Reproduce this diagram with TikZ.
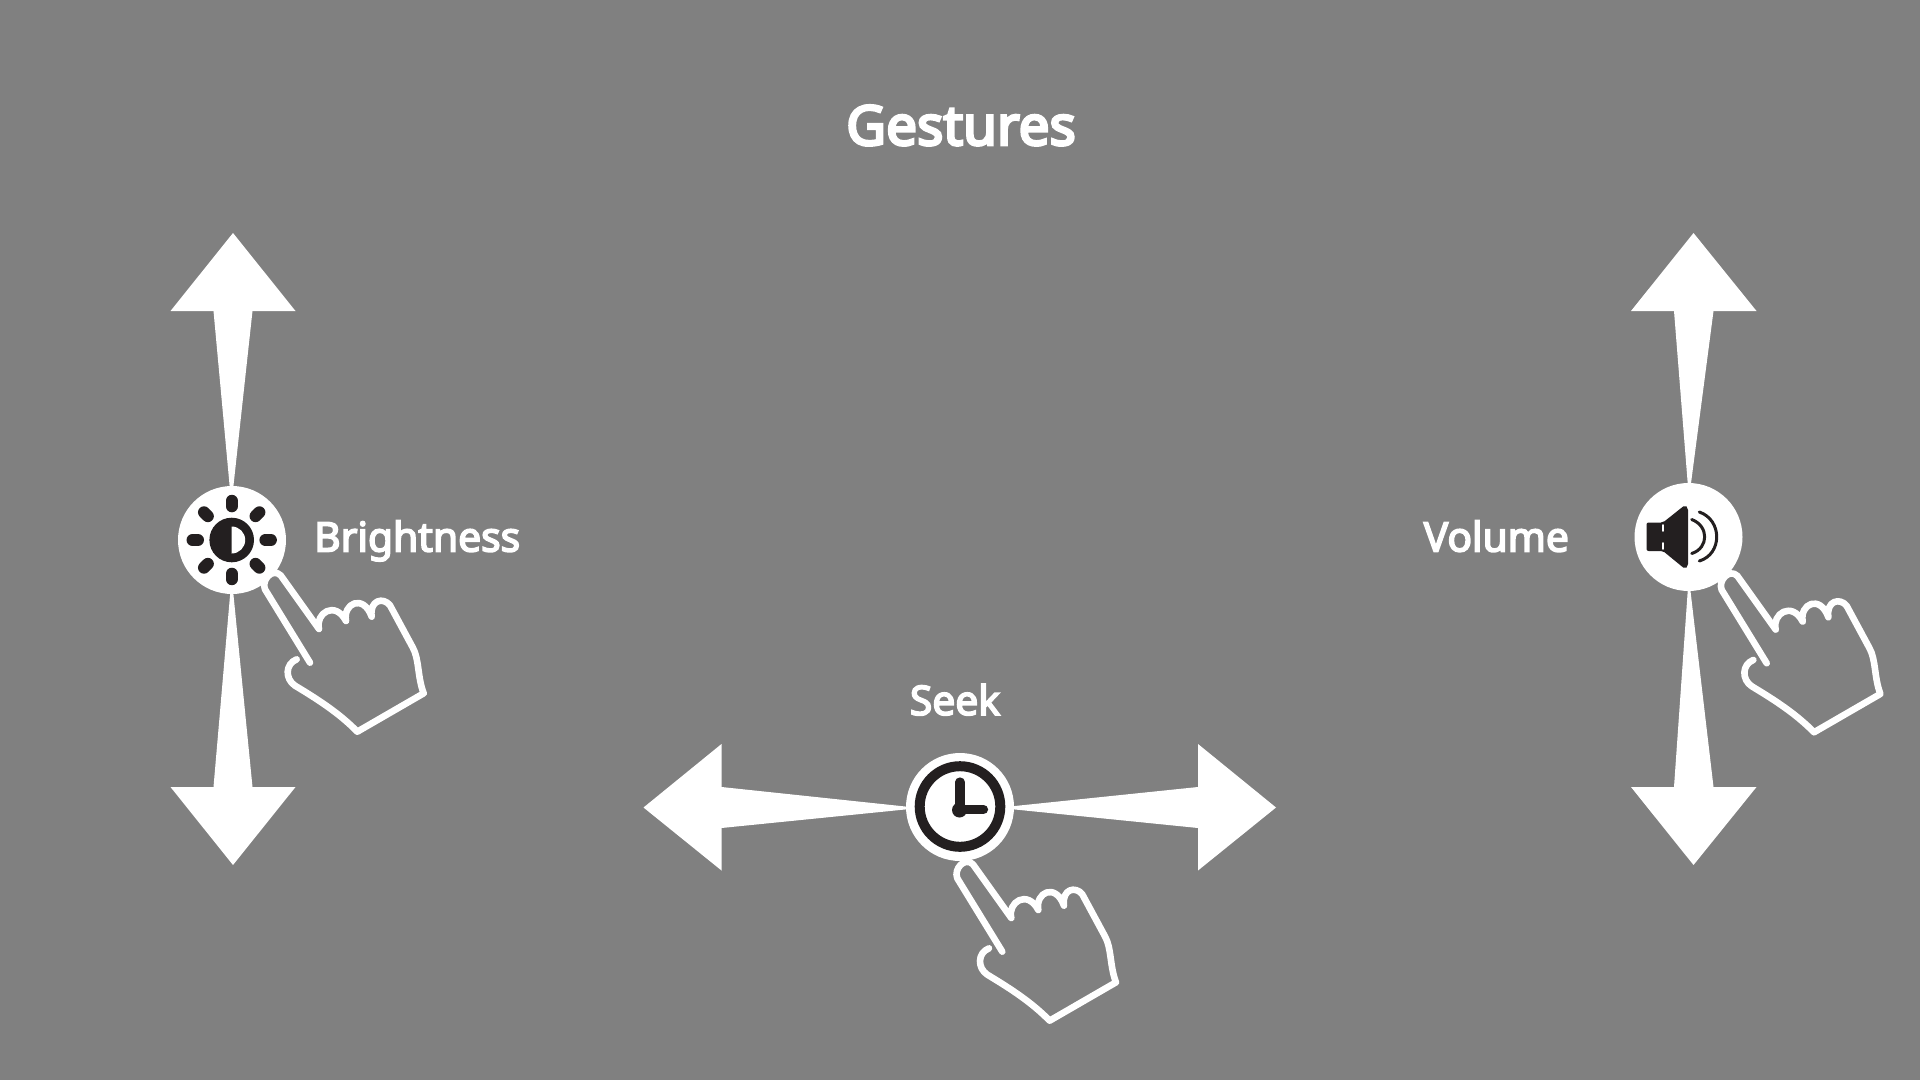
\documentclass[tikz,border=0pt]{standalone}
\usepackage{fontspec}
\setmainfont{Noto Sans}
\newfontfamily\labfont[RawFeature={embolden=4}]{Noto Sans}
\newfontfamily\titlefont[RawFeature={embolden=5}]{Noto Sans}
\definecolor{bg}{HTML}{808080}
\definecolor{ink}{HTML}{231F20}
\tikzset{
  x=0.05cm,y=-0.05cm,
  arrowshape/.style={fill=white,draw=none},
  disc/.style={circle,fill=white,draw=none,minimum size=5.4cm,inner sep=0pt,outer sep=0pt},
  title/.style={text=white,font=\titlefont\fontsize{78}{90}\selectfont,inner sep=0pt,anchor=base},
  lab/.style={text=white,font=\labfont\fontsize{58}{70}\selectfont,inner sep=0pt,anchor=base},
  inkfill/.style={fill=ink,draw=none},
  pics/hand/.style={code={
    \draw[white,line width=0.33cm,line cap=round,line join=round,x=0.05cm/3,y=-0.05cm/3]
      (480,608) -- (345,388) .. controls (333,360) and (368,322) .. (392,346)
      -- (507,507) .. controls (495,460) and (555,420) .. (588,483)
      .. controls (578,430) and (640,400) .. (665,470)
      .. controls (658,420) and (700,410) .. (720,436)
      -- (788,562) .. controls (808,597) and (802,650) .. (821,700)
      -- (622,815) .. controls (570,762) and (510,722) .. (435,677)
      .. controls (405,657) and (405,612) .. (440,598);
  }},
}
\begin{document}
\begin{tikzpicture}
\useasboundingbox[fill=bg] (0,0) rectangle (1920,1080);
% arrows, left column
\fill[arrowshape] (233,233) -- (295.5,311) -- (252.5,311) -- (233,490) -- (230,490) -- (213.5,311) -- (170.5,311) -- cycle;
\fill[arrowshape] (233,865) -- (295.5,787) -- (252.5,787) -- (233,590) -- (230.5,590) -- (213.5,787) -- (170.5,787) -- cycle;
% arrows, right column
\fill[arrowshape] (1693.5,233) -- (1756.5,311) -- (1713.5,311) -- (1690.5,487) -- (1688,487) -- (1674,311) -- (1631,311) -- cycle;
\fill[arrowshape] (1693.5,865) -- (1756.5,787) -- (1713.5,787) -- (1690,587) -- (1688,587) -- (1674,787) -- (1631,787) -- cycle;
% arrows, centre
\fill[arrowshape] (643.5,807.5) -- (721.5,744) -- (721.5,787) -- (910,807) -- (910,809) -- (721.5,828) -- (721.5,870.5) -- cycle;
\fill[arrowshape] (1276,807.5) -- (1198,744) -- (1198,787) -- (1010,806.5) -- (1010,809) -- (1198,828) -- (1198,870.5) -- cycle;
% discs
\node[disc] (bright) at (232,540) {};
\node[disc] (vol) at (1688.5,537) {};
\node[disc] (seek) at (960,807) {};
% brightness icon
\fill[inkfill] (231.7,540) circle[radius=22.3];
\fill[white] (231.7,526.5) arc[start angle=90,end angle=-90,x radius=13.5,y radius=-13.5] -- cycle;
\foreach \a in {0,45,...,315}
  \draw[ink,line width=0.6cm,line cap=round] (231.7,540) ++(\a:33.7) -- ++(\a:5.5);
% volume icon
\fill[inkfill,rounded corners=0.1cm] (1646.5,522.5) -- (1663,522.5) -- (1685,505) -- (1688,508) -- (1688,566) -- (1685,569) -- (1663,551) -- (1646.5,551) -- cycle;
\draw[white,line width=0.08cm,line cap=round] (1663,525) -- (1663,531) (1663,543) -- (1663,549);
\draw[ink,line width=0.15cm,line cap=round] (1691.7,519.5) .. controls (1709,526) and (1709,548) .. (1691.7,553.5);
\draw[ink,line width=0.15cm,line cap=round] (1699.3,512) .. controls (1722.5,520) and (1722.5,554) .. (1699.3,561);
% clock icon
\draw[ink,line width=0.5cm] (960,806.5) circle[radius=40.3];
\fill[inkfill] (959.5,810) circle[radius=7.5];
\draw[ink,line width=0.46cm,line cap=round,line join=round] (960,782) -- (960,809.5) -- (983.5,809.5);
% hands
\pic at (150,460) {hand};
\pic at (1606.7,460.6) {hand};
\pic at (842.3,749) {hand};
% text
\node[title] (t) at (961,145) {Gestures};
\node[lab,anchor=base west] (b) at (314,551.5) {Brightness};
\node[lab,anchor=base east] (v) at (1569,551.5) {Volume};
\node[lab] (s) at (955,715) {Seek};
\end{tikzpicture}
\end{document}
